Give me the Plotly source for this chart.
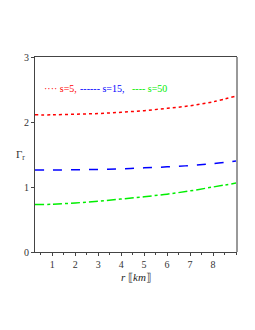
import plotly.graph_objects as go

r = [0.25, 1, 2, 3, 4, 5, 6, 7, 8, 9]
g_s5 = [2.11, 2.11, 2.12, 2.13, 2.15, 2.175, 2.21, 2.25, 2.31, 2.40]
g_s15 = [1.26, 1.26, 1.265, 1.27, 1.28, 1.295, 1.31, 1.33, 1.36, 1.40]
g_s50 = [0.73, 0.735, 0.755, 0.78, 0.815, 0.85, 0.89, 0.94, 1.00, 1.06]
names = ["s=5,", "s=15,", "s=50"]
colors = ["#ff0000", "#0000ff", "#00ee00"]
samples = ["····", "------", "----"]
x_ticks = [1, 2, 3, 4, 5, 6, 7, 8]
y_ticks = [0, 1, 2, 3]

FONT = "Liberation Serif, Times New Roman, serif"

fig = go.Figure()
fig.add_trace(go.Scatter(x=r, y=g_s5, mode="lines", name=names[0], line=dict(color=colors[0], dash="dot", width=1.5, shape="spline")))
fig.add_trace(go.Scatter(x=r, y=g_s15, mode="lines", name=names[1], line=dict(color=colors[1], dash="dash", width=1.5, shape="spline")))
fig.add_trace(go.Scatter(x=r, y=g_s50, mode="lines", name=names[2], line=dict(color=colors[2], dash="dashdot", width=1.5, shape="spline")))

fig.update_layout(
    width=255, height=330,
    margin=dict(l=35, r=19, t=57, b=78),
    paper_bgcolor="white", plot_bgcolor="white",
    font=dict(family=FONT, size=10, color="#333"),
    showlegend=False,
)
fig.update_xaxes(range=[0.25, 9], tickvals=x_ticks, ticks="outside", ticklen=3,
                 showgrid=False, zeroline=False, showline=True, linecolor="#444", mirror=True,
                 minor=dict(ticks="outside", ticklen=2, dtick=0.5))
fig.update_yaxes(range=[0, 3], tickvals=y_ticks, ticks="outside", ticklen=3,
                 showgrid=False, zeroline=False, showline=True, linecolor="#444", mirror=True)
fig.add_shape(type="line", xref="paper", yref="paper", x0=1.005, x1=1.005, y0=0, y1=1,
              line=dict(color="#999", width=2))

legend_x = [0.035, 0.214, 0.473]
for c, s, n, lx in zip(colors, samples, names, legend_x):
    fig.add_annotation(text=f"{s} {n}", xref="paper", yref="paper", x=lx, y=0.84,
                       showarrow=False, xanchor="left", yanchor="middle",
                       font=dict(size=10, color=c, family=FONT))
fig.add_annotation(text="Γ<sub>r</sub>", xref="paper", yref="paper", x=-0.04, y=0.5,
                   showarrow=False, xanchor="right", font=dict(size=11, color="#333"))
fig.add_annotation(text="<i>r</i> ⟦<i>km</i>⟧", xref="paper", yref="paper", x=0.5, y=-0.085,
                   showarrow=False, yanchor="top", font=dict(size=11, color="#222"))
fig.write_html("out.html", config={"displayModeBar": False},
               post_script="document.body.style.margin='0';")
